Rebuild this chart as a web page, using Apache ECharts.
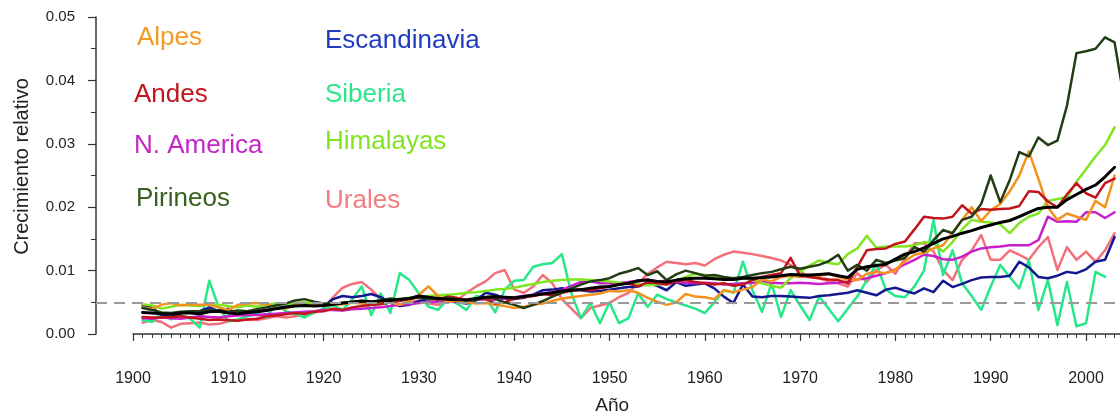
<!DOCTYPE html>
<html><head><meta charset="utf-8">
<script src="https://cdn.jsdelivr.net/npm/echarts@6/dist/echarts.min.js"></script>
<style>html,body{margin:0;padding:0;background:#fff}#c{width:1120px;height:418px}</style>
</head><body><div id="c"></div>
<script>
// ---------------- DATA ----------------
const firstYear = 1901;
const years = Array.from({length: 104}, (_, i) => firstYear + i);
const yTicks = [0.00, 0.01, 0.02, 0.03, 0.04, 0.05];
const refLevel = 0.005;

const alpes = [
0.0042,0.0040,0.0046,0.0049,0.0045,0.0047,0.0046,0.0046,0.0042,0.0038,
0.0046,0.0048,0.0049,0.0047,0.0042,0.0040,0.0045,0.0046,0.0045,0.0045,
0.0046,0.0047,0.0050,0.0048,0.0046,0.0049,0.0050,0.0046,0.0052,0.0062,
0.0075,0.0060,0.0050,0.0053,0.0050,0.0048,0.0049,0.0046,0.0044,0.0041,
0.0043,0.0046,0.0048,0.0052,0.0056,0.0058,0.0060,0.0062,0.0064,0.0068,
0.0067,0.0069,0.0065,0.0057,0.0051,0.0046,0.0050,0.0063,0.0059,0.0058,
0.0055,0.0069,0.0066,0.0070,0.0074,0.0086,0.0083,0.0090,0.0092,0.0090,
0.0093,0.0092,0.0095,0.0090,0.0086,0.0085,0.0095,0.0098,0.0096,0.0101,
0.0115,0.0125,0.0128,0.0135,0.0140,0.0160,0.0180,0.0200,0.0178,0.0195,
0.0205,0.0225,0.0250,0.0288,0.0245,0.0200,0.0180,0.0190,0.0185,0.0180,
0.0210,0.0200,0.0250];

const andes = [
0.0027,0.0026,0.0026,0.0027,0.0028,0.0026,0.0024,0.0022,0.0023,0.0022,
0.0021,0.0023,0.0024,0.0028,0.0029,0.0031,0.0033,0.0032,0.0035,0.0036,
0.0040,0.0038,0.0042,0.0044,0.0046,0.0047,0.0050,0.0052,0.0055,0.0058,
0.0056,0.0054,0.0059,0.0057,0.0053,0.0055,0.0056,0.0048,0.0050,0.0056,
0.0058,0.0060,0.0063,0.0061,0.0065,0.0068,0.0070,0.0069,0.0072,0.0075,
0.0078,0.0080,0.0075,0.0082,0.0080,0.0078,0.0083,0.0085,0.0082,0.0080,
0.0078,0.0080,0.0076,0.0078,0.0085,0.0090,0.0093,0.0096,0.0120,0.0092,
0.0090,0.0088,0.0086,0.0085,0.0080,0.0106,0.0132,0.0134,0.0135,0.0142,
0.0146,0.0165,0.0185,0.0183,0.0182,0.0185,0.0203,0.0190,0.0197,0.0196,
0.0197,0.0198,0.0202,0.0225,0.0224,0.0209,0.0200,0.0220,0.0238,0.0222,
0.0215,0.0238,0.0245];

const nAmerica = [
0.0025,0.0024,0.0026,0.0025,0.0024,0.0026,0.0028,0.0027,0.0026,0.0028,
0.0029,0.0030,0.0030,0.0031,0.0032,0.0033,0.0034,0.0035,0.0036,0.0038,
0.0038,0.0037,0.0039,0.0040,0.0041,0.0042,0.0044,0.0046,0.0047,0.0049,
0.0050,0.0051,0.0052,0.0051,0.0053,0.0054,0.0055,0.0054,0.0056,0.0058,
0.0060,0.0062,0.0064,0.0066,0.0069,0.0076,0.0082,0.0083,0.0080,0.0080,
0.0080,0.0082,0.0084,0.0086,0.0083,0.0084,0.0082,0.0081,0.0080,0.0081,
0.0080,0.0078,0.0079,0.0080,0.0081,0.0083,0.0081,0.0080,0.0080,0.0081,
0.0080,0.0079,0.0080,0.0081,0.0083,0.0086,0.0088,0.0092,0.0096,0.0102,
0.0110,0.0117,0.0125,0.0123,0.0118,0.0117,0.0122,0.0130,0.0135,0.0137,
0.0138,0.0140,0.0140,0.0140,0.0148,0.0185,0.0177,0.0178,0.0177,0.0192,
0.0192,0.0183,0.0192];

const pirineos = [
0.0041,0.0038,0.0034,0.0033,0.0035,0.0036,0.0036,0.0038,0.0037,0.0035,
0.0037,0.0036,0.0039,0.0042,0.0045,0.0048,0.0053,0.0055,0.0051,0.0048,
0.0047,0.0049,0.0051,0.0052,0.0050,0.0053,0.0056,0.0054,0.0056,0.0058,
0.0055,0.0056,0.0057,0.0055,0.0053,0.0054,0.0058,0.0056,0.0050,0.0046,
0.0041,0.0046,0.0052,0.0059,0.0065,0.0072,0.0078,0.0083,0.0085,0.0088,
0.0095,0.0099,0.0104,0.0093,0.0099,0.0085,0.0094,0.0100,0.0096,0.0092,
0.0093,0.0090,0.0088,0.0090,0.0093,0.0096,0.0098,0.0102,0.0106,0.0103,
0.0106,0.0109,0.0115,0.0125,0.0100,0.0109,0.0100,0.0117,0.0112,0.0116,
0.0120,0.0137,0.0130,0.0148,0.0164,0.0159,0.0180,0.0185,0.0205,0.0250,
0.0208,0.0243,0.0287,0.0280,0.0310,0.0298,0.0305,0.0360,0.0443,0.0446,
0.0450,0.0468,0.0460,0.0370];

const escandinavia = [
0.0045,0.0042,0.0030,0.0027,0.0033,0.0035,0.0036,0.0042,0.0036,0.0040,
0.0030,0.0034,0.0035,0.0038,0.0040,0.0044,0.0046,0.0048,0.0046,0.0044,
0.0055,0.0060,0.0058,0.0060,0.0063,0.0058,0.0050,0.0044,0.0046,0.0052,
0.0055,0.0056,0.0054,0.0050,0.0048,0.0053,0.0065,0.0062,0.0056,0.0055,
0.0057,0.0062,0.0069,0.0070,0.0072,0.0070,0.0069,0.0067,0.0068,0.0070,
0.0072,0.0074,0.0075,0.0080,0.0076,0.0069,0.0082,0.0076,0.0078,0.0080,
0.0072,0.0059,0.0049,0.0078,0.0059,0.0058,0.0060,0.0060,0.0059,0.0058,
0.0057,0.0060,0.0061,0.0063,0.0065,0.0069,0.0065,0.0061,0.0070,0.0073,
0.0068,0.0064,0.0072,0.0066,0.0084,0.0074,0.0079,0.0085,0.0089,0.0090,
0.0090,0.0092,0.0114,0.0105,0.0090,0.0088,0.0092,0.0098,0.0096,0.0102,
0.0114,0.0117,0.0153];

const siberia = [
0.0022,0.0019,0.0033,0.0023,0.0030,0.0024,0.0010,0.0084,0.0042,0.0020,
0.0023,0.0028,0.0032,0.0026,0.0048,0.0036,0.0032,0.0026,0.0034,0.0040,
0.0045,0.0038,0.0055,0.0075,0.0030,0.0064,0.0033,0.0096,0.0085,0.0064,
0.0043,0.0038,0.0055,0.0048,0.0038,0.0060,0.0058,0.0034,0.0070,0.0084,
0.0085,0.0106,0.0110,0.0112,0.0126,0.0064,0.0025,0.0049,0.0017,0.0050,
0.0017,0.0025,0.0064,0.0043,0.0062,0.0055,0.0050,0.0045,0.0040,0.0033,
0.0050,0.0069,0.0065,0.0114,0.0069,0.0035,0.0080,0.0027,0.0069,0.0045,
0.0022,0.0059,0.0040,0.0020,0.0040,0.0059,0.0085,0.0110,0.0070,0.0060,
0.0058,0.0075,0.0100,0.0180,0.0093,0.0132,0.0080,0.0060,0.0038,0.0075,
0.0109,0.0090,0.0072,0.0117,0.0038,0.0085,0.0014,0.0082,0.0012,0.0017,
0.0098,0.0090,null];

const himalayas = [
0.0047,0.0045,0.0040,0.0043,0.0046,0.0045,0.0044,0.0048,0.0046,0.0044,
0.0042,0.0045,0.0043,0.0046,0.0048,0.0047,0.0049,0.0050,0.0049,0.0048,
0.0047,0.0048,0.0049,0.0049,0.0050,0.0051,0.0053,0.0055,0.0057,0.0059,
0.0060,0.0061,0.0062,0.0063,0.0065,0.0066,0.0068,0.0070,0.0071,0.0073,
0.0076,0.0079,0.0082,0.0084,0.0085,0.0086,0.0086,0.0085,0.0084,0.0083,
0.0081,0.0079,0.0078,0.0077,0.0078,0.0079,0.0084,0.0090,0.0095,0.0093,
0.0090,0.0088,0.0086,0.0088,0.0086,0.0080,0.0076,0.0073,0.0088,0.0098,
0.0108,0.0116,0.0112,0.0110,0.0126,0.0135,0.0155,0.0136,0.0138,0.0138,
0.0138,0.0140,0.0145,0.0143,0.0130,0.0145,0.0165,0.0180,0.0177,0.0176,
0.0173,0.0159,0.0175,0.0185,0.0190,0.0210,0.0213,0.0216,0.0240,0.0260,
0.0280,0.0298,0.0326];

const urales = [
0.0018,0.0022,0.0019,0.0010,0.0016,0.0017,0.0018,0.0015,0.0016,0.0020,
0.0022,0.0023,0.0022,0.0025,0.0028,0.0026,0.0028,0.0030,0.0033,0.0040,
0.0058,0.0073,0.0079,0.0082,0.0070,0.0055,0.0052,0.0046,0.0050,0.0053,
0.0048,0.0046,0.0050,0.0053,0.0065,0.0075,0.0083,0.0096,0.0101,0.0070,
0.0065,0.0075,0.0093,0.0080,0.0055,0.0040,0.0025,0.0041,0.0045,0.0049,
0.0058,0.0065,0.0080,0.0095,0.0105,0.0114,0.0112,0.0110,0.0112,0.0108,
0.0118,0.0125,0.0130,0.0128,0.0126,0.0123,0.0120,0.0116,0.0109,0.0098,
0.0090,0.0088,0.0083,0.0080,0.0075,0.0096,0.0082,0.0101,0.0109,0.0095,
0.0120,0.0143,0.0143,0.0130,0.0101,0.0085,0.0117,0.0132,0.0156,0.0117,
0.0117,0.0132,0.0125,0.0117,0.0137,0.0153,0.0101,0.0137,0.0117,0.0130,
0.0114,0.0132,0.0159];

const meanAll = [
0.0034,0.0033,0.0032,0.0031,0.0033,0.0033,0.0032,0.0035,0.0036,0.0033,
0.0032,0.0034,0.0035,0.0037,0.0040,0.0042,0.0044,0.0045,0.0044,0.0045,
0.0047,0.0049,0.0050,0.0052,0.0051,0.0052,0.0053,0.0055,0.0056,0.0060,
0.0058,0.0056,0.0055,0.0054,0.0054,0.0056,0.0058,0.0059,0.0058,0.0057,
0.0059,0.0061,0.0063,0.0065,0.0068,0.0069,0.0070,0.0072,0.0074,0.0075,
0.0078,0.0080,0.0084,0.0085,0.0083,0.0082,0.0085,0.0087,0.0088,0.0088,
0.0087,0.0086,0.0086,0.0088,0.0088,0.0089,0.0090,0.0092,0.0094,0.0093,
0.0093,0.0094,0.0095,0.0092,0.0089,0.0102,0.0106,0.0108,0.0110,0.0118,
0.0126,0.0130,0.0136,0.0143,0.0150,0.0154,0.0159,0.0163,0.0168,0.0172,
0.0176,0.0179,0.0185,0.0192,0.0198,0.0200,0.0200,0.0212,0.0220,0.0228,
0.0235,0.0248,0.0263];

const bandLow = [
0.0029,0.0028,0.0027,0.0026,0.0028,0.0028,0.0027,0.0030,0.0031,0.0028,
0.0027,0.0029,0.0030,0.0032,0.0035,0.0037,0.0039,0.0040,0.0039,0.0040,
0.0042,0.0044,0.0045,0.0047,0.0046,0.0047,0.0048,0.0050,0.0051,0.0055,
0.0053,0.0051,0.0050,0.0049,0.0049,0.0051,0.0053,0.0054,0.0053,0.0052,
0.0053,0.0055,0.0057,0.0059,0.0062,0.0063,0.0064,0.0066,0.0068,0.0069,
0.0072,0.0074,0.0078,0.0079,0.0077,0.0076,0.0079,0.0081,0.0082,0.0082,
0.0080,0.0079,0.0079,0.0081,0.0081,0.0082,0.0083,0.0085,0.0087,0.0086,
0.0085,0.0086,0.0086,0.0083,0.0079,0.0091,0.0094,0.0095,0.0096,0.0103,
0.0111,0.0114,0.0118,0.0123,0.0128,0.0131,0.0135,0.0138,0.0142,0.0146,
0.0149,0.0152,0.0158,0.0165,0.0171,0.0175,0.0173,0.0180,0.0186,0.0192,
0.0198,0.0206,0.0216];

const bandHigh = [
0.0039,0.0038,0.0037,0.0036,0.0038,0.0038,0.0037,0.0040,0.0041,0.0038,
0.0037,0.0039,0.0040,0.0042,0.0045,0.0047,0.0049,0.0050,0.0049,0.0050,
0.0052,0.0054,0.0055,0.0057,0.0056,0.0057,0.0058,0.0060,0.0061,0.0065,
0.0063,0.0061,0.0060,0.0059,0.0059,0.0061,0.0063,0.0064,0.0063,0.0062,
0.0065,0.0067,0.0069,0.0071,0.0074,0.0075,0.0076,0.0078,0.0080,0.0081,
0.0084,0.0086,0.0090,0.0091,0.0089,0.0088,0.0091,0.0093,0.0094,0.0094,
0.0094,0.0093,0.0093,0.0095,0.0095,0.0096,0.0097,0.0099,0.0101,0.0100,
0.0101,0.0102,0.0104,0.0101,0.0099,0.0113,0.0118,0.0121,0.0124,0.0133,
0.0141,0.0146,0.0154,0.0163,0.0172,0.0177,0.0183,0.0188,0.0194,0.0198,
0.0203,0.0206,0.0212,0.0219,0.0225,0.0228,0.0232,0.0248,0.0262,0.0275,
0.0286,0.0296,0.0306];

const regionNames = ['Alpes','Andes','N. America','Pirineos','Escandinavia','Siberia','Himalayas','Urales'];
const regionValues = [alpes, andes, nAmerica, pirineos, escandinavia, siberia, himalayas, urales];

// ---------------- STYLE / LAYOUT ----------------
const FONT = '"Liberation Sans", Arial, Helvetica, sans-serif';
const lineColors = ['#F5921E','#C1141D','#C81FCB','#223D14','#14188F','#27E889','#7FE61F','#F3707A'];
const textColors = ['#F39A24','#C1141D','#C524C6','#36601C','#1F3CBF','#2DE68A','#80E41F','#F47C80'];
const legendPos = [[137,37.5],[134,94.5],[134,146],[136,199],[325,41],[325,94.5],[325,142],[325,201]];
const drawOrder = [7,5,4,2,6,0,1,3];

const W = 1120;
const PX_PER_YEAR = 9.53;
const PLOT_LEFT = 96, AXIS_START = 133;
const X_MIN = 1900, X_MAX = 2010;
const plotXMin = X_MIN - (AXIS_START - PLOT_LEFT) / PX_PER_YEAR;
const plotXMax = plotXMin + (W - PLOT_LEFT) / PX_PER_YEAR;
const axisRight = W - AXIS_START - (X_MAX - X_MIN) * PX_PER_YEAR;

const pairs = arr => arr.map((v, i) => [years[i], v]);
const axisColor = '#333';

const series = [];
series.push({
  type: 'line', name: 'bandLow', xAxisIndex: 0, yAxisIndex: 0,
  data: pairs(bandLow), stack: 'band', symbol: 'none', silent: true, z: 1,
  lineStyle: {opacity: 0}
});
series.push({
  type: 'line', name: 'bandHigh', xAxisIndex: 0, yAxisIndex: 0,
  data: bandHigh.map((h, i) => [years[i], h - bandLow[i]]), stack: 'band',
  symbol: 'none', silent: true, z: 1,
  lineStyle: {opacity: 0}, areaStyle: {color: '#C8C8C8', opacity: 1}
});
drawOrder.forEach((k, n) => {
  const s = {
    type: 'line', name: regionNames[k], xAxisIndex: 0, yAxisIndex: 0,
    data: pairs(regionValues[k]), symbol: 'none', z: 3, connectNulls: false,
    lineStyle: {color: lineColors[k], width: 2.5, cap: 'round', join: 'round'},
    itemStyle: {color: lineColors[k]}
  };
  if (n === 0) {
    s.markLine = {
      silent: true, symbol: 'none', precision: 4, label: {show: false},
      lineStyle: {color: '#999', width: 2, type: [11, 7]},
      data: [{yAxis: refLevel}]
    };
  }
  series.push(s);
});
series.push({
  type: 'line', name: 'Media', xAxisIndex: 0, yAxisIndex: 0,
  data: pairs(meanAll), symbol: 'none', z: 4,
  lineStyle: {color: '#000', width: 3, cap: 'round', join: 'round'}
});

const graphic = regionNames.map((name, k) => ({
  type: 'text', x: legendPos[k][0], y: legendPos[k][1], silent: true,
  style: {text: name, fill: textColors[k], font: '26px ' + FONT, verticalAlign: 'middle', align: 'left'}
}));

const option = {
  animation: false,
  backgroundColor: '#fff',
  grid: [
    {left: PLOT_LEFT, right: 0, top: 17, bottom: 84, containLabel: false, outerBoundsMode: 'none'},
    {left: AXIS_START, right: axisRight, top: 17, bottom: 84, containLabel: false, outerBoundsMode: 'none'}
  ],
  xAxis: [
    {type: 'value', gridIndex: 0, min: plotXMin, max: plotXMax, show: false},
    {type: 'value', gridIndex: 1, min: X_MIN, max: X_MAX, interval: 10, offset: 15,
     axisLine: {show: true, lineStyle: {color: axisColor, width: 1.5}},
     axisTick: {show: true, length: 7, lineStyle: {color: axisColor, width: 1.2}},
     minorTick: {show: true, splitNumber: 10, length: 4, lineStyle: {color: axisColor, width: 1}},
     splitLine: {show: false}, minorSplitLine: {show: false},
     axisLabel: {margin: 22, fontSize: 16, color: '#222', fontFamily: FONT, formatter: v => String(v)},
     name: 'Año', nameLocation: 'middle', nameGap: 47,
     nameTextStyle: {fontSize: 19, color: '#222', fontFamily: FONT, padding: [0, 90, 0, 0]}}
  ],
  yAxis: [
    {type: 'value', gridIndex: 0, min: yTicks[0], max: yTicks[yTicks.length - 1], interval: yTicks[1] - yTicks[0],
     axisLine: {show: true, lineStyle: {color: axisColor, width: 1.5}},
     axisTick: {show: true, length: 8, lineStyle: {color: axisColor, width: 1.2}},
     minorTick: {show: true, splitNumber: 2, length: 5, lineStyle: {color: axisColor, width: 1}},
     splitLine: {show: false},
     axisLabel: {margin: 21, fontSize: 15, color: '#222', fontFamily: FONT, formatter: v => v.toFixed(2)},
     name: 'Crecimiento relativo', nameLocation: 'middle', nameRotate: 90, nameGap: 64,
     nameTextStyle: {fontSize: 20, color: '#222', fontFamily: FONT, padding: [0, 0, 0, 18]}},
    {type: 'value', gridIndex: 1, min: 0, max: 0.05, show: false}
  ],
  graphic: graphic,
  series: series
};

const chart = echarts.init(document.getElementById('c'), null, {renderer: 'canvas'});
chart.setOption(option);
</script>
</body></html>
